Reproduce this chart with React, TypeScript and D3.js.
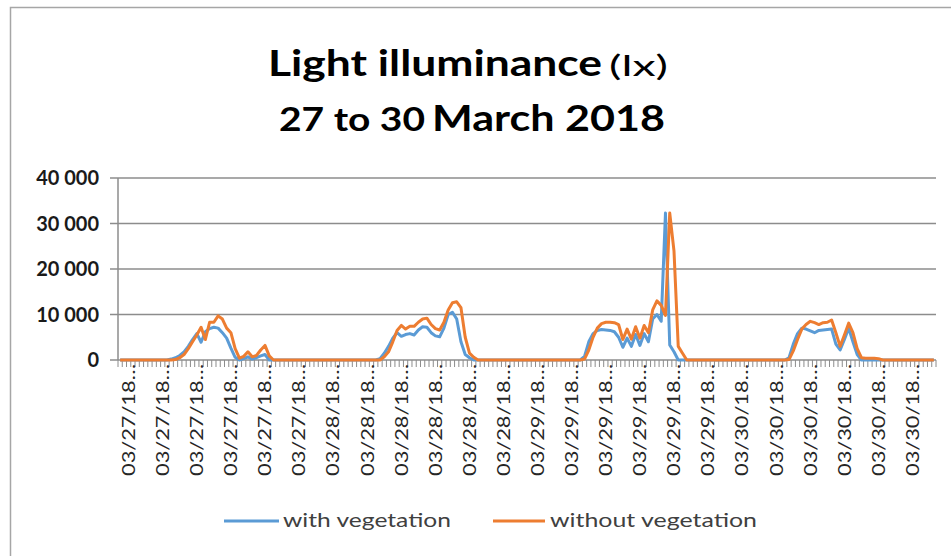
import React from "react";
import * as d3 from "d3";

// 192 half-hour readings, 27–30 March 2018 (index 0 = 03/27 00:00)
const N = 192;

const withVeg: Array<[number, number]> = [
  [12, 200], [13, 500], [14, 1000], [15, 1800], [16, 3000], [17, 4500], [18, 5800], [19, 3900],
  [20, 6200], [21, 6900], [22, 7200], [23, 7000], [24, 6000], [25, 4800], [26, 2600], [27, 600],
  [28, 0], [29, 300], [30, 700], [31, 200], [32, 500], [33, 900], [34, 1200], [35, 0],
  [61, 300], [62, 1500], [63, 3000], [64, 4800], [65, 6000], [66, 5200], [67, 5600], [68, 5800],
  [69, 5500], [70, 6600], [71, 7300], [72, 7200], [73, 6000], [74, 5300], [75, 5100], [76, 7000],
  [77, 10000], [78, 10500], [79, 9000], [80, 4000], [81, 1200], [82, 500], [83, 0],
  [109, 800], [110, 4000], [111, 5800], [112, 6500], [113, 6700], [114, 6600], [115, 6500], [116, 6200],
  [117, 5000], [118, 2800], [119, 4800], [120, 3000], [121, 5600], [122, 3200], [123, 5800], [124, 4000],
  [125, 9000], [126, 10000], [127, 8500], [128, 32300], [129, 3300], [130, 1800], [131, 0],
  [157, 500], [158, 3500], [159, 5800], [160, 7000], [161, 6800], [162, 6400], [163, 6000], [164, 6500],
  [165, 6600], [166, 6700], [167, 6800], [168, 3500], [169, 2200], [170, 4500], [171, 7000], [172, 4000],
  [173, 1200], [174, 0],
];

const withoutVeg: Array<[number, number]> = [
  [13, 100], [14, 500], [15, 1200], [16, 2500], [17, 4000], [18, 5500], [19, 7200], [20, 4500],
  [21, 8300], [22, 8300], [23, 9700], [24, 9000], [25, 7000], [26, 6000], [27, 2500], [28, 400],
  [29, 800], [30, 1800], [31, 700], [32, 1000], [33, 2200], [34, 3200], [35, 900], [36, 0],
  [62, 700], [63, 1800], [64, 4000], [65, 6500], [66, 7600], [67, 6800], [68, 7400], [69, 7400],
  [70, 8300], [71, 9000], [72, 9200], [73, 7800], [74, 6900], [75, 6600], [76, 8300], [77, 11000],
  [78, 12600], [79, 12800], [80, 11500], [81, 5000], [82, 1500], [83, 600], [84, 0],
  [109, 200], [110, 2200], [111, 5000], [112, 7000], [113, 8000], [114, 8300], [115, 8300], [116, 8200],
  [117, 7800], [118, 4500], [119, 6800], [120, 4600], [121, 7300], [122, 4800], [123, 7600], [124, 6000],
  [125, 11000], [126, 13000], [127, 12000], [128, 9800], [129, 32300], [130, 24000], [131, 3000], [132, 1500],
  [133, 0],
  [157, 100], [158, 2000], [159, 4500], [160, 6800], [161, 7800], [162, 8500], [163, 8200], [164, 7800],
  [165, 8200], [166, 8300], [167, 8800], [168, 6000], [169, 3000], [170, 5500], [171, 8100], [172, 6000],
  [173, 2500], [174, 500], [175, 400], [176, 400], [177, 400], [178, 300], [179, 0],
];

const xLabels: string[] = [
  "03/27/18…", "03/27/18…", "03/27/18…", "03/27/18…", "03/27/18…", "03/27/18…",
  "03/28/18…", "03/28/18…", "03/28/18…", "03/28/18…", "03/28/18…", "03/28/18…",
  "03/29/18…", "03/29/18…", "03/29/18…", "03/29/18…", "03/29/18…", "03/29/18…",
  "03/30/18…", "03/30/18…", "03/30/18…", "03/30/18…", "03/30/18…", "03/30/18…",
];
const yTicks: number[] = [0, 10000, 20000, 30000, 40000];
const seriesNames: string[] = ["with vegetation", "without vegetation"];
const seriesColors: string[] = ["#5B9BD5", "#ED7D31"];

function expand(pairs: Array<[number, number]>): number[] {
  const arr = new Array(N).fill(0);
  pairs.forEach(([i, v]) => (arr[i] = v));
  return arr;
}

const fmt = (v: number) => (v === 0 ? "0" : d3.format(",")(v).replace(/,/g, " "));

export default function App() {
  const W = 951, H = 556;
  const left = 118, right = 936, top = 178, bottom = 360;
  const x = d3.scaleBand<number>().domain(d3.range(N)).range([left, right]);
  const y = d3.scaleLinear().domain([0, 40000]).range([bottom, top]);
  const cx = (i: number) => (x(i) as number) + x.bandwidth() / 2;
  const line = d3
    .line<number>()
    .x((_, i) => cx(i))
    .y((v) => y(v));
  const series = [expand(withVeg), expand(withoutVeg)];
  const font = "Lato, 'Open Sans', sans-serif";

  return (
    <svg width={W} height={H} style={{ position: "absolute", left: 0, top: 0, background: "#fff" }}>
      <rect x={10.5} y={7.5} width={1000} height={700} fill="#fff" stroke="#a6a6a6" strokeWidth={1.5} />
      {/* title */}
      <text x={268} y={76} fontFamily={font} fontWeight={700} fontSize={36} fill="#000" textLength={334} lengthAdjust="spacingAndGlyphs">
        Light illuminance
      </text>
      <text x={609} y={76} fontFamily={font} fontWeight={400} fontSize={29} fill="#000" textLength={59} lengthAdjust="spacingAndGlyphs">
        (lx)
      </text>
      <text x={279} y={131} fontFamily={font} fontWeight={700} fontSize={32} fill="#000" textLength={146} lengthAdjust="spacingAndGlyphs">
        27 to 30
      </text>
      <text x={432} y={131} fontFamily={font} fontWeight={700} fontSize={36} fill="#000" textLength={233} lengthAdjust="spacingAndGlyphs">
        March 2018
      </text>
      {/* grid */}
      {yTicks.map((t) => (
        <g key={t}>
          {t > 0 && <line x1={left - 8} x2={right} y1={y(t)} y2={y(t)} stroke="#8c8c8c" strokeWidth={1.5} />}
          <text x={99} y={y(t)} dy="0.35em" textAnchor="end" fontFamily={font} fontWeight={700} fontSize={20} fill="#1a1a1a">
            {fmt(t)}
          </text>
        </g>
      ))}
      {/* axes */}
      <line x1={left} x2={left} y1={top} y2={bottom} stroke="#8c8c8c" strokeWidth={1.5} />
      <line x1={left - 8} x2={right} y1={bottom} y2={bottom} stroke="#8c8c8c" strokeWidth={1.5} />
      {d3.range(N + 1).map((i) => {
        const xx = i === N ? right : (x(i) as number);
        return <line key={i} x1={xx} x2={xx} y1={bottom} y2={bottom + 7} stroke="#8c8c8c" strokeWidth={1} />;
      })}
      {xLabels.map((lab, k) => {
        const i = 2 + k * 8;
        return (
          <text
            key={k}
            transform={`translate(${cx(i)},${bottom + 4}) rotate(-90)`}
            textAnchor="end"
            dy="0.35em"
            fontFamily={font}
            fontSize={18}
            fill="#262626"
            textLength={112}
            lengthAdjust="spacingAndGlyphs"
          >
            {lab}
          </text>
        );
      })}
      {/* lines */}
      {series.map((s, k) => (
        <path key={k} d={line(s) || ""} fill="none" stroke={seriesColors[k]} strokeWidth={3} strokeLinejoin="round" />
      ))}
      {/* legend */}
      <line x1={224} x2={279} y1={521} y2={521} stroke={seriesColors[0]} strokeWidth={3} />
      <text x={283} y={527} fontFamily={font} fontSize={20} fill="#404040" textLength={168} lengthAdjust="spacingAndGlyphs">
        {seriesNames[0]}
      </text>
      <line x1={493} x2={545} y1={521} y2={521} stroke={seriesColors[1]} strokeWidth={3} />
      <text x={550} y={527} fontFamily={font} fontSize={20} fill="#404040" textLength={207} lengthAdjust="spacingAndGlyphs">
        {seriesNames[1]}
      </text>
    </svg>
  );
}
